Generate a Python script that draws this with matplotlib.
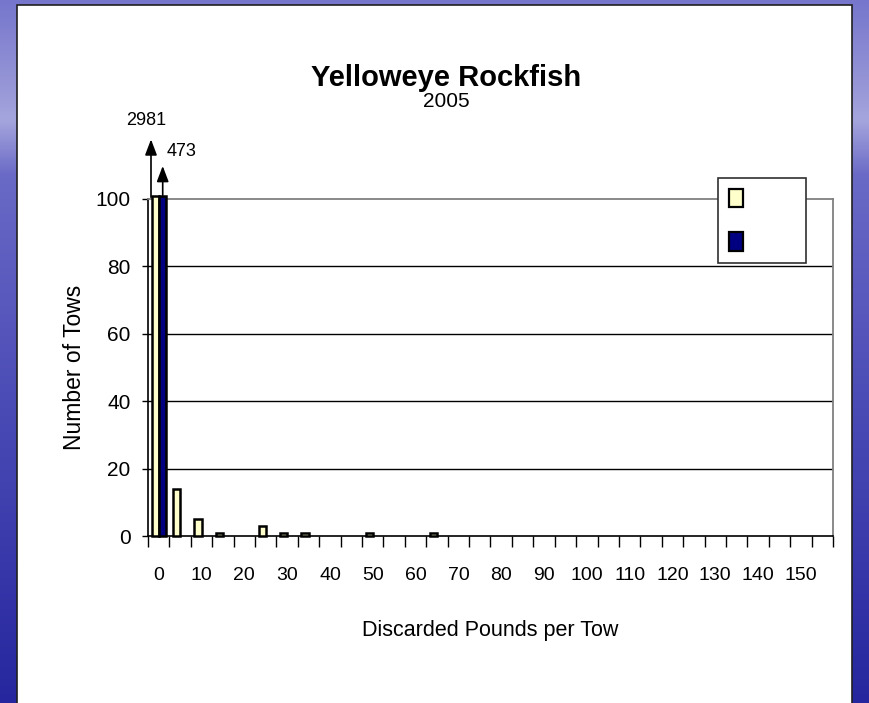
import numpy as np
import matplotlib
matplotlib.use('Agg')
import matplotlib.pyplot as plt
from matplotlib.patches import Rectangle, Patch

# discarded pounds per tow, 5 lb bins
bins = [0, 5, 10, 15, 20, 25, 30, 35, 40, 45, 50, 55, 60, 65, 70, 75,
        80, 85, 90, 95, 100, 105, 110, 115, 120, 125, 130, 135, 140, 145, 150, 155]
tows_yellow = [2981, 14, 5, 1, 0, 3, 1, 1, 0, 0, 1, 0, 0, 1, 0, 0,
               0, 0, 0, 0, 0, 0, 0, 0, 0, 0, 0, 0, 0, 0, 0, 0]
tows_navy = [473, 0, 0, 0, 0, 0, 0, 0, 0, 0, 0, 0, 0, 0, 0, 0,
             0, 0, 0, 0, 0, 0, 0, 0, 0, 0, 0, 0, 0, 0, 0, 0]
tick_labels = [str(b) if b % 10 == 0 else '' for b in bins]

title = 'Yelloweye Rockfish'
subtitle = '2005'
y_max = 100

plt.rcParams['font.family'] = ['Liberation Sans', 'DejaVu Sans']

W, H = 870, 703
fig = plt.figure(figsize=(W / 100, H / 100), dpi=100)

# blue slide background + white panel
bg = fig.add_axes([0, 0, 1, 1], zorder=-10)
stops = [0.0, 0.12, 0.17, 0.25, 0.5, 0.8, 1.0]
cols = np.array([[118, 118, 205], [150, 150, 215], [165, 165, 222], [105, 105, 198],
                 [82, 82, 186], [56, 56, 170], [38, 38, 158]]) / 255.0
t = np.linspace(0, 1, 300)
grad = np.stack([np.interp(t, stops, cols[:, k]) for k in range(3)], axis=-1)
bg.imshow(grad[:, None, :], aspect='auto', extent=[0, 1, 0, 1])
bg.add_patch(Rectangle((17 / W, -0.01), (852 - 17) / W, 1.01 - 5 / H,
                       facecolor='white', edgecolor='#202020', lw=1.2))
bg.set_xlim(0, 1)
bg.set_ylim(0, 1)
bg.axis('off')

# plot area
x0, x1, ytop, ybot = 148, 833, 199, 536
ax = fig.add_axes([x0 / W, 1 - ybot / H, (x1 - x0) / W, (ybot - ytop) / H])
ax.set_facecolor('none')

x = np.arange(len(bins))
h_yellow = np.minimum(tows_yellow, y_max + 1)
h_navy = np.minimum(tows_navy, y_max + 1)
# no outline on empty bins so the axis line stays clean
ax.bar(x - 0.165, h_yellow, width=0.33, color='#FFFFCC', edgecolor='black',
       lw=[1.8 if v > 0 else 0 for v in tows_yellow], clip_on=False, zorder=3)
ax.bar(x + 0.175, h_navy, width=0.35, color='#000080', edgecolor='black',
       lw=[1.8 if v > 0 else 0 for v in tows_navy], clip_on=False, zorder=3)

ax.set_xlim(-0.5, len(bins) - 0.5)
ax.set_ylim(0, y_max)

for g in [20, 40, 60, 80]:
    ax.axhline(g, color='black', lw=1, zorder=1)

for s in ['top', 'right']:
    ax.spines[s].set_color('#808080')
    ax.spines[s].set_linewidth(1.3)
for s in ['left', 'bottom']:
    ax.spines[s].set_color('black')
    ax.spines[s].set_linewidth(1.2)

ax.set_yticks([0, 20, 40, 60, 80, 100])
ax.tick_params(axis='y', length=4.5, width=1, pad=8, labelsize=15)
ax.set_xticks(np.arange(-0.5, len(bins), 1))
ax.set_xticklabels([])
ax.set_xticks(x, tick_labels, minor=True)
ax.tick_params(axis='x', which='major', length=8, width=1, direction='out')
ax.tick_params(axis='x', which='minor', length=0, pad=22, labelsize=14)

ax.set_xlabel('Discarded Pounds per Tow', fontsize=15.5)
ax.xaxis.set_label_coords(0.5, -0.279)
ax.xaxis.label.set_va('center')
ax.set_ylabel('Number of Tows', fontsize=16.5)
ax.yaxis.set_label_coords((75 - x0) / (x1 - x0), 0.5)
ax.yaxis.label.set_va('center')

# off-scale values
arrow = dict(arrowstyle='-|>,head_length=0.95,head_width=0.36', color='black',
             lw=1.2, shrinkA=0, shrinkB=0)
ax.annotate('', xy=(-0.36, 117.7), xytext=(-0.36, 100.5), arrowprops=arrow,
            annotation_clip=False)
ax.annotate('', xy=(0.187, 109.8), xytext=(0.187, 100.5), arrowprops=arrow,
            annotation_clip=False)
ax.text(-0.57, 122, str(tows_yellow[0]), ha='center', va='baseline', fontsize=13,
        clip_on=False)
ax.text(0.374, 112.8, str(tows_navy[0]), ha='left', va='baseline', fontsize=13,
        clip_on=False)

# legend (series names are blank in the source)
handles = [Patch(facecolor='#FFFFCC', edgecolor='black', lw=1.6),
           Patch(facecolor='#000080', edgecolor='black', lw=1.6)]
leg = ax.legend(handles, [' ', ' '], loc='upper left',
                bbox_to_anchor=((718 - x0) / (x1 - x0), (ybot - 178) / (ybot - ytop)),
                borderaxespad=0, fontsize=14, handlelength=0.72, handleheight=1.1,
                labelspacing=1.2, borderpad=0.55, handletextpad=2.45,
                fancybox=False, framealpha=1, edgecolor='#303030')
leg.get_frame().set_linewidth(1.2)

fig.text(446 / W, 1 - 86 / H, title, ha='center', va='baseline',
         fontsize=21, fontweight='bold')
fig.text(446 / W, 1 - 107 / H, subtitle, ha='center', va='baseline', fontsize=15)

fig.savefig('out.png', dpi=100)
